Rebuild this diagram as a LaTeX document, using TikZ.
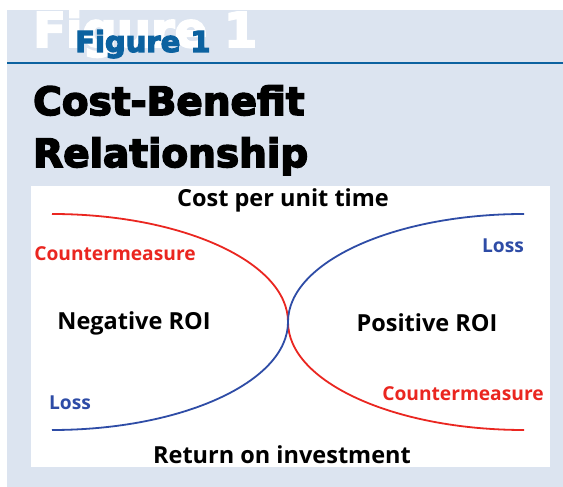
\documentclass[tikz,border=0pt]{standalone}
\usepackage{fontspec}
\usepackage{xcolor}
\newfontfamily\heavyfont{DejaVu Sans}[BoldFeatures={FakeBold=4}]
\newfontfamily\chartfont{Open Sans}
\definecolor{panelbg}{RGB}{220,228,240}
\definecolor{rulebl}{RGB}{12,98,160}
\definecolor{curvered}{RGB}{234,38,32}
\definecolor{curveblue}{RGB}{46,76,166}
\tikzstyle{none}=[inner sep=0pt]
\tikzstyle{simple}=[-,line width=1.8pt]
\tikzstyle{label}=[inner sep=0pt,font=\chartfont\bfseries\fontsize{23.5}{23.5}\selectfont]
\tikzstyle{curvelabel}=[inner sep=0pt,font=\chartfont\bfseries\fontsize{19.2}{19.2}\selectfont]

\begin{document}
\begin{tikzpicture}[x=1pt,y=1pt]
  \useasboundingbox (0,0) rectangle (563,487);
  \fill [color=panelbg] (7,0) rectangle (563,477);
  \fill [color=white] (31,20) rectangle (550,301);
  \draw [color=rulebl,line width=2.6pt] (7,424) -- (563,424);
  % heading
  \node [style=none,anchor=base west,text=white] (0) at (33,440) {\heavyfont\bfseries\fontsize{48}{48}\selectfont Figure 1};
  \node [style=none,anchor=base west,text=rulebl] (1) at (75,435) {\heavyfont\bfseries\fontsize{29}{29}\selectfont Figure 1};
  \node [style=none,anchor=base west] (2) at (33,372) {\heavyfont\bfseries\fontsize{39}{39}\selectfont Cost-Benefit};
  \node [style=none,anchor=base west] (3) at (33,320) {\heavyfont\bfseries\fontsize{39}{39}\selectfont Relationship};
  % curve ends
  \node [style=none] (4) at (52,273) {};
  \node [style=none] (5) at (52,57) {};
  \node [style=none] (6) at (288,165) {};
  \node [style=none] (7) at (524,273) {};
  \node [style=none] (8) at (524,57) {};
  \draw [style=simple,color=curvered] (4.center) arc[start angle=90,end angle=0,x radius=236,y radius=108]
    arc[start angle=180,end angle=270,x radius=236,y radius=108];
  \draw [style=simple,color=curveblue] (5.center) arc[start angle=270,end angle=360,x radius=236,y radius=108]
    arc[start angle=180,end angle=90,x radius=236,y radius=108];
  % labels
  \node [style=label] (9) at (283,287) {Cost per unit time};
  \node [style=curvelabel,text=curvered] (10) at (115,233) {Countermeasure};
  \node [style=curvelabel,text=curveblue] (11) at (503,241) {Loss};
  \node [style=label] (12) at (134,164) {Negative ROI};
  \node [style=label] (13) at (427,164) {Positive ROI};
  \node [style=curvelabel,text=curveblue] (14) at (70,84) {Loss};
  \node [style=curvelabel,text=curvered] (15) at (463,93) {Countermeasure};
  \node [style=label] (16) at (282,32) {Return on investment};
\end{tikzpicture}
\end{document}
